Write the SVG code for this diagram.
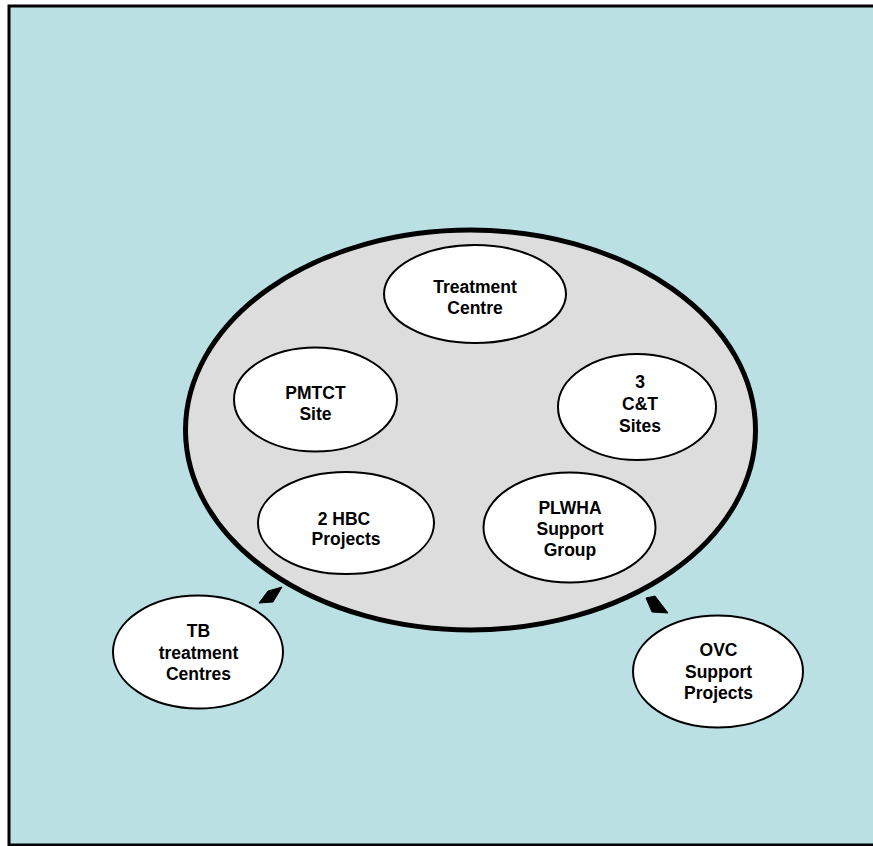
<svg xmlns="http://www.w3.org/2000/svg" width="873" height="846" viewBox="0 0 873 846">
<style>
.node{fill:#ffffff;stroke:#000;stroke-width:2}
.t{font-family:"Liberation Sans",Arial,sans-serif;font-weight:bold;font-size:17.5px;fill:#000;text-anchor:middle}
.arr{fill:#000;stroke:#000;stroke-width:1}
</style>
<rect x="0" y="0" width="873" height="846" fill="#ffffff"/>
<rect x="9" y="6" width="880" height="839" fill="#BBE0E3" stroke="#000" stroke-width="3"/>
<g id="main">
<ellipse cx="470.5" cy="430" rx="285" ry="200" fill="#DDDDDD" stroke="#000" stroke-width="5"/>
</g>
<g id="treatment-centre">
<ellipse class="node" cx="475" cy="294" rx="91" ry="49"/>
<text class="t" x="475" y="293">Treatment</text>
<text class="t" x="475" y="314">Centre</text>
</g>
<g id="pmtct">
<ellipse class="node" cx="315.5" cy="399.5" rx="81.5" ry="52"/>
<text class="t" x="315.5" y="399">PMTCT</text>
<text class="t" x="315.5" y="420">Site</text>
</g>
<g id="ct-sites">
<ellipse class="node" cx="637" cy="407" rx="79" ry="53"/>
<text class="t" x="640" y="388">3</text>
<text class="t" x="640" y="410">C&amp;T</text>
<text class="t" x="640" y="431.5">Sites</text>
</g>
<g id="hbc">
<ellipse class="node" cx="346" cy="523" rx="88" ry="51"/>
<text class="t" x="344" y="525">2 HBC</text>
<text class="t" x="346" y="545">Projects</text>
</g>
<g id="plwha">
<ellipse class="node" cx="569.5" cy="527.5" rx="86" ry="55"/>
<text class="t" x="570" y="513.5">PLWHA</text>
<text class="t" x="570" y="535">Support</text>
<text class="t" x="570" y="556">Group</text>
</g>
<g id="tb">
<ellipse class="node" cx="198" cy="652" rx="85" ry="56.5"/>
<text class="t" x="198.5" y="637">TB</text>
<text class="t" x="198.5" y="659">treatment</text>
<text class="t" x="198.5" y="680">Centres</text>
</g>
<g id="ovc">
<ellipse class="node" cx="718" cy="671.5" rx="85" ry="56"/>
<text class="t" x="718.5" y="656">OVC</text>
<text class="t" x="718.5" y="678">Support</text>
<text class="t" x="718.5" y="699">Projects</text>
</g>
<g id="connectors">
<polygon class="arr" points="259,603 268,591 282,587 273,602"/>
<polygon class="arr" points="646,598 655,596 668,613 652,612"/>
</g>
</svg>
